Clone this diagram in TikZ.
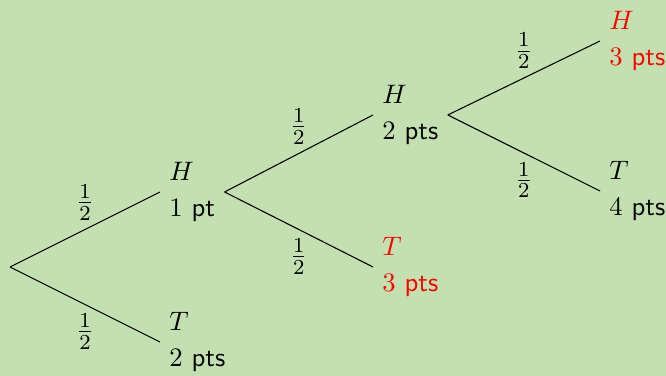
\documentclass[tikz,border=0pt]{standalone}
\usepackage{amsmath}
\usepackage{tikz}
\usetikzlibrary{positioning}
\usepackage{xcolor}
\definecolor{treegreen}{RGB}{195,224,176}
\definecolor{treered}{RGB}{255,0,0}
\tikzset{
  outcome/.style={
    anchor=west,
    align=left,
    font=\fontsize{10}{13.5}\selectfont\sffamily
  },
  scored/.style={
    outcome,
    text=treered
  },
  branch/.style={
    draw=black
  },
  chance/.style={
    font=\fontsize{11}{13}\selectfont
  }
}

\begin{document}
\begin{tikzpicture}[x=0.3745pt, y=0.3745pt]
\fill[treegreen] (0,0) rectangle (666,376);
\useasboundingbox (0,0) rectangle (666,376);
\coordinate (root) at (10,109);
\node[outcome] (h1) at (160,184) {$H$\\$1$ pt};
\node[outcome] (t1) at (160,34) {$T$\\$2$ pts};
\node[outcome] (h2) at (373,261) {$H$\\$2$ pts};
\node[scored] (t2) at (373,109) {$T$\\$3$ pts};
\node[scored] (h3) at (600,335) {$H$\\$3$ pts};
\node[outcome] (t3) at (600,185) {$T$\\$4$ pts};
\draw[branch] (root) -- (h1.west) node[chance, midway, above] {$\frac{1}{2}$};
\draw[branch] (root) -- (t1.west) node[chance, midway, below] {$\frac{1}{2}$};
\draw[branch] (h1.east) -- (h2.west) node[chance, midway, above] {$\frac{1}{2}$};
\draw[branch] (h1.east) -- (t2.west) node[chance, midway, below] {$\frac{1}{2}$};
\draw[branch] (h2.east) -- (h3.west) node[chance, midway, above] {$\frac{1}{2}$};
\draw[branch] (h2.east) -- (t3.west) node[chance, midway, below] {$\frac{1}{2}$};
\end{tikzpicture}
\end{document}
